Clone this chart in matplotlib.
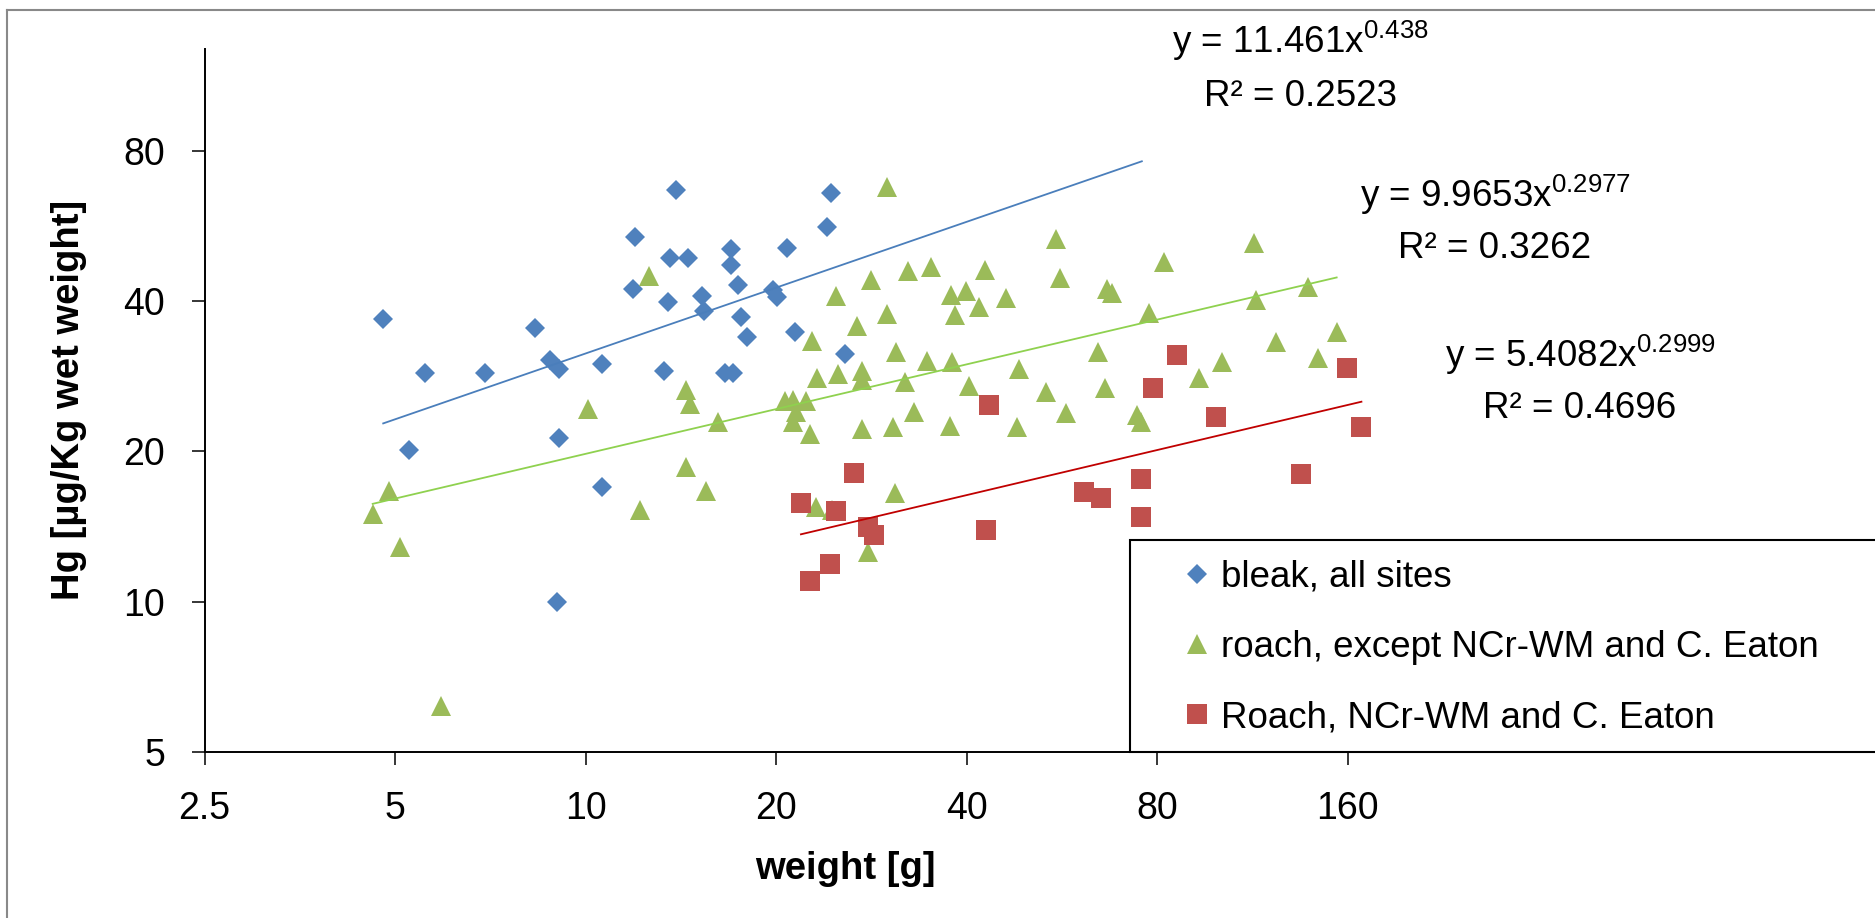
import numpy as np
import matplotlib
matplotlib.use("Agg")
import matplotlib.pyplot as plt
from matplotlib.lines import Line2D
from matplotlib.patches import Rectangle
from matplotlib.ticker import FixedLocator, FuncFormatter, NullLocator

plt.rcParams["font.family"] = ["Liberation Sans", "DejaVu Sans"]

# bleak, all sites
bleak_weight = [4.79, 5.26, 5.58, 6.93, 8.31, 8.79, 9.09, 9.09, 9.01, 10.61,
                10.61, 11.89, 11.99, 13.29, 13.5, 13.6, 13.9, 14.5, 15.3, 15.4,
                16.6, 17.1, 17.0, 17.0, 17.4, 17.6, 18.0, 19.8, 20.1, 20.8,
                21.4, 24.1, 24.4, 25.7]
bleak_hg = [36.8, 20.1, 28.7, 28.7, 35.4, 30.5, 29.2, 21.3, 10.0, 30.0,
            17.0, 42.4, 53.8, 29.0, 39.9, 48.9, 66.8, 48.9, 41.0, 38.2,
            28.7, 28.7, 50.8, 47.2, 43.1, 37.1, 33.9, 42.1, 40.8, 51.2,
            34.7, 56.3, 65.9, 31.4]

# roach, except NCr-WM and C. Eaton
roach_weight = [12.6, 14.4, 14.6, 10.1, 16.2, 14.4, 15.5, 12.2, 4.90, 4.61,
                5.10, 5.91, 29.9, 55.3, 56.2, 82.2, 28.3, 32.3, 35.2, 42.8,
                24.9, 37.8, 39.9, 38.3, 41.9, 46.1, 66.8, 67.8, 30.0, 26.9,
                77.8, 22.8, 31.0, 34.6, 38.0, 64.5, 48.5, 23.2, 25.1, 27.3,
                27.3, 32.0, 40.3, 53.4, 66.2, 20.7, 21.3, 22.3, 21.5, 21.3,
                22.6, 33.1, 57.4, 74.3, 75.4, 27.3, 30.6, 37.7, 48.1, 30.8,
                23.1, 24.5, 28.0, 113.9, 114.8, 138.7, 153.8, 123.4, 101.4, 93.3,
                143.7]
roach_hg = [44.9, 26.6, 24.9, 24.3, 22.9, 18.6, 16.7, 15.3, 16.7, 15.0,
            12.9, 6.17, 67.8, 53.2, 44.5, 48.0, 44.1, 46.0, 46.8, 46.2,
            41.0, 41.2, 42.0, 37.5, 38.9, 40.5, 42.4, 41.6, 37.7, 35.7,
            37.8, 33.3, 31.6, 30.3, 30.2, 31.7, 29.3, 28.1, 28.6, 29.0,
            27.8, 27.6, 27.1, 26.3, 26.8, 25.2, 25.4, 25.2, 24.0, 22.9,
            21.7, 24.0, 23.9, 23.7, 22.9, 22.2, 22.4, 22.5, 22.4, 16.5,
            15.5, 15.3, 12.6, 52.2, 40.3, 42.7, 34.7, 33.1, 30.2, 28.1,
            30.8]

# Roach, NCr-WM and C. Eaton
ncr_weight = [43.4, 85.9, 78.8, 26.6, 21.9, 24.9, 28.0, 28.6, 42.9, 61.4,
              65.3, 75.6, 75.6, 24.3, 22.6, 99.2, 159.7, 168.3, 134.9]
ncr_hg = [24.8, 31.2, 26.8, 18.1, 15.8, 15.2, 14.1, 13.6, 13.9, 16.6,
          16.1, 17.6, 14.8, 11.9, 11.0, 23.4, 29.4, 22.4, 18.0]

# power trendlines y = a * x^b
bleak_fit = (11.461, 0.438, "0.2523")
roach_fit = (9.9653, 0.2977, "0.3262")
ncr_fit = (5.4082, 0.2999, "0.4696")
bleak_forecast = 50

x_ticks = [2.5, 5, 10, 20, 40, 80, 160]
y_ticks = [5, 10, 20, 40, 80]

W, H = 1875, 918
fig = plt.figure(figsize=(W / 100, H / 100), dpi=100)
ax = fig.add_axes([204.5 / W, 1 - 752 / H, (1476.7 - 204.5) / W, (752 - 49) / H])

blue, green, red = "#4F81BD", "#9BBB59", "#C0504D"

h1, = ax.plot(bleak_weight, bleak_hg, ls="none", marker="D", ms=10.2,
              color=blue, mew=0, zorder=3)
h2, = ax.plot(roach_weight, roach_hg, ls="none", marker="^", ms=14.4,
              color=green, mew=0, zorder=3)
h3, = ax.plot(ncr_weight, ncr_hg, ls="none", marker="s", ms=14.0,
              color=red, mew=0, zorder=3)


def trend(xs, fit, color, extra=0):
    a, b, _ = fit
    xx = np.geomspace(min(xs), max(xs) + extra, 50)
    ax.plot(xx, a * xx ** b, color=color, lw=1.3, zorder=4)


trend(bleak_weight, bleak_fit, "#4A7EBB", bleak_forecast)
trend(roach_weight, roach_fit, "#8FD14F")
trend(ncr_weight, ncr_fit, "#C00000")

ax.set_xscale("log", base=2)
ax.set_yscale("log", base=2)
ax.set_xlim(2.5, 256)
ax.set_ylim(5, 128)
ax.xaxis.set_major_locator(FixedLocator(x_ticks))
ax.yaxis.set_major_locator(FixedLocator(y_ticks))
ax.xaxis.set_minor_locator(NullLocator())
ax.yaxis.set_minor_locator(NullLocator())
fmt = FuncFormatter(lambda v, p: f"{v:g}")
ax.xaxis.set_major_formatter(fmt)
ax.yaxis.set_major_formatter(fmt)
ax.tick_params(direction="out", length=9.4, width=1.1, pad=19,
               labelsize=27, color="black")

for s in ("top", "right"):
    ax.spines[s].set_visible(False)
for s in ("left", "bottom"):
    ax.spines[s].set_linewidth(1.4)
    ax.spines[s].set_color("black")

fig.text(69 / W, 1 - 400 / H, "Hg [µg/Kg wet weight]", rotation=90,
         ha="center", va="center", fontsize=27.5, fontweight="bold")
fig.text(845 / W, 1 - 879 / H, "weight [g]", ha="center", va="baseline",
         fontsize=27.5, fontweight="bold")

# trendline equations
labels = [(bleak_fit, 1300, 53, 106), (roach_fit, 1495, 206.7, 258),
          (ncr_fit, 1580, 366.7, 418)]
for (a, b, r2), cx, y1, y2 in labels:
    fig.text(cx / W, 1 - y1 / H, f"y = {a:g}x$^{{\\mathregular{{{b:g}}}}}$",
             ha="center", va="baseline", fontsize=26.5)
    fig.text(cx / W, 1 - y2 / H, f"R² = {r2}", ha="center", va="baseline",
             fontsize=26.5)

# legend box running off the right edge
box = Rectangle((1129.7 / W, 1 - 751.7 / H), 1.0, (751.7 - 540) / H,
                transform=fig.transFigure, facecolor="white",
                edgecolor="black", lw=1.5, zorder=5, clip_on=False)
fig.patches.append(box)
leg = fig.legend([h1, h2, h3],
                 ["bleak, all sites", "roach, except NCr-WM and C. Eaton",
                  "Roach, NCr-WM and C. Eaton"],
                 loc="upper left", bbox_to_anchor=(1182.3 / W, 1 - 559.4 / H),
                 frameon=False, fontsize=26.5, handlelength=0.8,
                 handletextpad=0.25, labelspacing=0.96, borderpad=0,
                 borderaxespad=0)
leg.set_zorder(6)

# outer chart border (cropped)
fig.add_artist(Line2D([6.7 / W, 6.7 / W], [0, 1 - 10 / H], color="#898989",
                      lw=1.5, transform=fig.transFigure))
fig.add_artist(Line2D([6.7 / W, 1], [1 - 10 / H, 1 - 10 / H], color="#898989",
                      lw=1.5, transform=fig.transFigure))

fig.savefig("out.png", dpi=100)
